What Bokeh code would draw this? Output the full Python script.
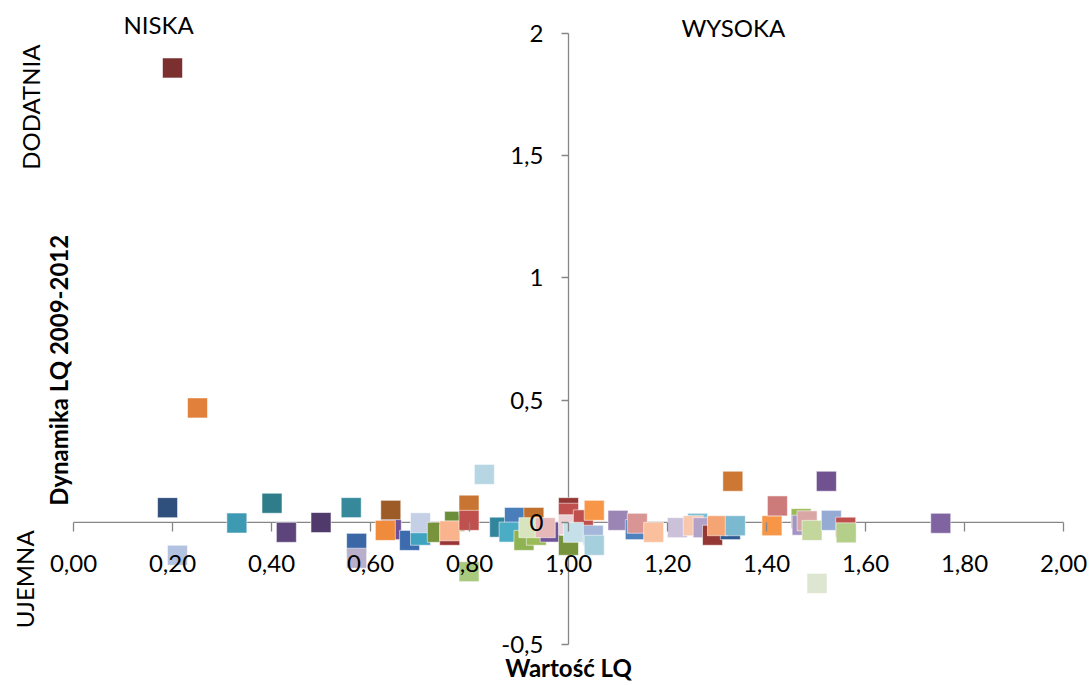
import math
from bokeh.plotting import figure
from bokeh.models import Range1d, FixedTicker, Label, CustomJSTickFormatter, ColumnDataSource
from bokeh.embed import file_html
from bokeh.resources import INLINE

# ---- data ----
lq_values = [0.200, 0.2505, 0.190, 0.210, 0.330, 0.401, 0.430, 0.500, 0.561, 0.572,
             0.572, 0.641, 0.642, 0.630, 0.679, 0.701, 0.701, 0.735, 0.770, 0.760,
             0.760, 0.799, 0.799, 0.830, 0.799, 0.861, 0.891, 0.880, 0.930, 0.910,
             0.935, 0.920, 0.963, 0.953, 1.000, 1.000, 1.000, 1.000, 1.030, 1.010,
             1.052, 1.050, 1.052, 1.100, 1.135, 1.139, 1.172, 1.220, 1.261, 1.252,
             1.272, 1.291, 1.327, 1.301, 1.337, 1.332, 1.411, 1.422, 1.470, 1.472,
             1.482, 1.492, 1.502, 1.521, 1.531, 1.560, 1.561, 1.752]
dyn_values = [1.859, 0.468, 0.060, -0.135, -0.003, 0.078, -0.041, -0.001, 0.060, -0.086,
              -0.147, 0.049, -0.030, -0.033, -0.074, -0.053, -0.002, -0.041, 0.004, -0.053,
              -0.035, 0.070, 0.008, 0.196, -0.202, -0.020, 0.020, -0.040, 0.020, -0.074,
              -0.053, -0.022, -0.040, -0.022, 0.060, 0.037, -0.094, -0.010, 0.010, -0.041,
              0.049, -0.053, -0.094, 0.008, -0.030, -0.004, -0.041, -0.022, -0.004, -0.014,
              -0.022, -0.053, -0.030, -0.014, -0.014, 0.168, -0.014, 0.067, 0.015, -0.012,
              0.006, -0.033, -0.250, 0.168, 0.008, -0.020, -0.043, -0.004]
colors = ["#7B2F2F", "#E0803A", "#2F4F7C", "#B3C2E0", "#3E99B2", "#2F7D8B", "#5D457C", "#4F3A6B", "#35899B", "#3C67A6",
          "#BAAFCB", "#9C5B27", "#6E5096", "#EF8B3B", "#3C6BAE", "#40A4C1", "#C5CFE6", "#77933C", "#6B8E3A", "#9B3434",
          "#F9B48E", "#C87533", "#C0504D", "#B7D6E3", "#A9C97E", "#31859C", "#4A7EBB", "#4BACC6", "#C0702C", "#8FB253",
          "#9BBB59", "#D7E4BD", "#6F5499", "#E6B9B8", "#953735", "#C0504D", "#77933C", "#EBD1D5", "#C0504D", "#C5E0E8",
          "#F79646", "#A5B6DB", "#A5CFDC", "#9A85B4", "#4F81BD", "#D99594", "#FAC09E", "#CCC1DA", "#7FBFD4", "#F9C7AE",
          "#B3A2C7", "#953735", "#2F5B93", "#F5A574", "#7AB9CF", "#CC7733", "#F79646", "#CD7A7A", "#9BBB59", "#A494C4",
          "#DAA6A5", "#C3D69B", "#DDE6D0", "#705290", "#95ABD4", "#C0504D", "#B3CF8A", "#8064A2"]

x_ticks = [0.0, 0.2, 0.4, 0.6, 0.8, 1.0, 1.2, 1.4, 1.6, 1.8, 2.0]
y_ticks = [-0.5, 0.0, 0.5, 1.0, 1.5, 2.0]

x_title = "Wartość LQ"
y_title = "Dynamika LQ 2009-2012"
corner_texts = ["NISKA", "WYSOKA", "DODATNIA", "UJEMNA"]

FONT = "Lato"
AX = "#868686"
W, H = 1089, 685
# frame covers the whole canvas; the axis box (0..2, -0.5..2) sits at
# 73..1063 px horizontally and 33..644 px vertically
px_per_x = (1063 - 73) / (x_ticks[-1] - x_ticks[0])
px_per_y = (644 - 33) / (y_ticks[-1] - y_ticks[0])
x_range = Range1d(x_ticks[0] - 73 / px_per_x, x_ticks[-1] + (W - 1063) / px_per_x)
y_range = Range1d(y_ticks[0] - (H - 644) / px_per_y, y_ticks[-1] + 33 / px_per_y)

p = figure(width=W, height=H, x_range=x_range, y_range=y_range,
           output_backend="svg", toolbar_location=None,
           min_border=0, min_border_left=0, min_border_right=0,
           min_border_top=0, min_border_bottom=0)
p.grid.visible = False
p.outline_line_color = None
p.background_fill_color = "white"
p.border_fill_color = "white"

# axis lines, drawn behind the markers
p.segment(x0=[x_ticks[0], 1.0], y0=[0.0, y_ticks[0]], x1=[x_ticks[-1], 1.0], y1=[0.0, y_ticks[-1]],
          line_color=AX, line_width=1.3, level="underlay")

xa = p.xaxis[0]
xa.fixed_location = 0
xa.ticker = FixedTicker(ticks=x_ticks)
xa.formatter = CustomJSTickFormatter(code="return tick.toFixed(2).replace('.', ',');")
xa.axis_line_color = None
xa.major_tick_line_color = AX
xa.major_tick_line_width = 1.3
xa.major_tick_in = 0
xa.major_tick_out = 9
xa.minor_tick_line_color = None
xa.major_label_standoff = 24
xa.major_label_text_font = FONT
xa.major_label_text_font_size = "24px"
xa.major_label_text_color = "black"

ya = p.yaxis[0]
ya.fixed_location = 1
ya.ticker = FixedTicker(ticks=y_ticks)
ya.formatter = CustomJSTickFormatter(code="return String(tick).replace('.', ',');")
ya.axis_line_color = None
ya.major_tick_line_color = AX
ya.major_tick_line_width = 1.3
ya.major_tick_in = 0
ya.major_tick_out = 7
ya.minor_tick_line_color = None
ya.major_label_standoff = 18
ya.major_label_text_font = FONT
ya.major_label_text_font_size = "24px"
ya.major_label_text_color = "black"

src = ColumnDataSource(dict(x=lq_values, y=dyn_values, c=colors))
p.scatter("x", "y", source=src, marker="square", size=20, fill_color="c",
          line_color="white", line_alpha=0.55, line_width=1)

def lab(x, y, text, angle=0.0, bold=False):
    p.add_layout(Label(x=x, y=y, text=text, angle=angle, text_font=FONT,
                       text_font_size="24px", text_color="black",
                       text_font_style="bold" if bold else "normal",
                       text_align="center", text_baseline="middle"))

lab(0.172, 2.037, corner_texts[0])
lab(1.333, 2.025, corner_texts[1])
lab(-0.087, 1.699, corner_texts[2], angle=math.pi / 2)
lab(-0.099, -0.233, corner_texts[3], angle=math.pi / 2)
lab(-0.030, 0.622, y_title, angle=math.pi / 2, bold=True)
lab(1.0, -0.595, x_title, bold=True)

open("out.html", "w").write(file_html(p, INLINE))
